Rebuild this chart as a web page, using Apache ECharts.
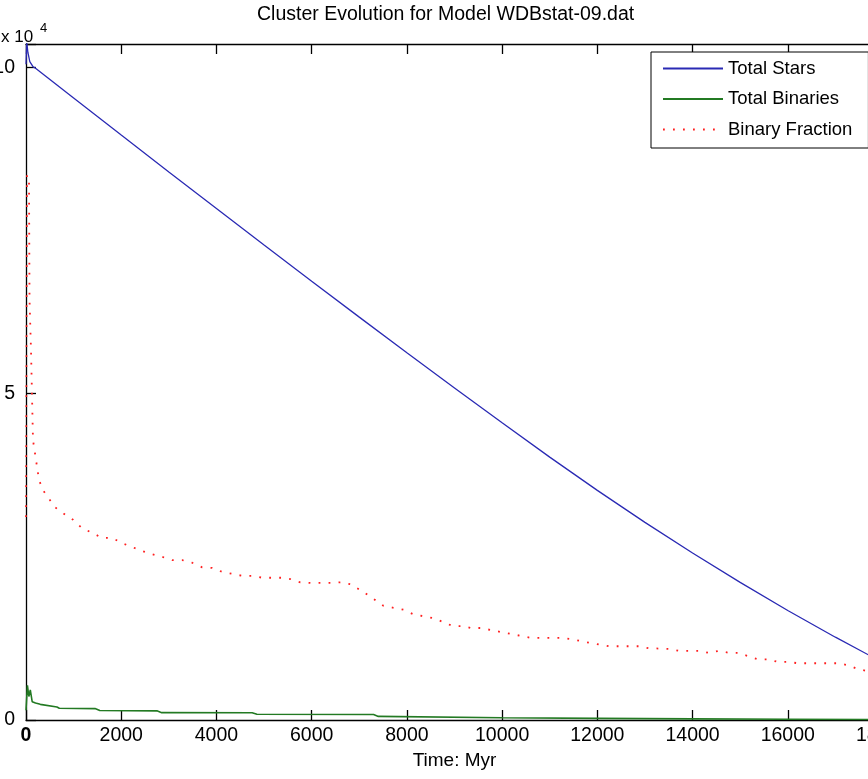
<!DOCTYPE html>
<html>
<head>
<meta charset="utf-8">
<script src="https://cdn.jsdelivr.net/npm/echarts@6/dist/echarts.min.js"></script>
<style>
  html, body { margin: 0; padding: 0; background: #ffffff; }
  #chart { width: 868px; height: 779px; }
</style>
</head>
<body>
<div id="chart"></div>
<script>
// Time axis ticks (Myr)
const timeTicks = [0, 2000, 4000, 6000, 8000, 10000, 12000, 14000, 16000, 18000];

// Total number of stars
const starTime = [0, 15, 40, 80, 150, 200, 1000, 2000, 3000, 4000, 5000, 6000, 7000, 8000, 9000,
  10000, 11000, 12000, 13000, 14000, 15000, 16000, 17000, 18000];
const totalStars = [100500, 103900, 102300, 100900, 100100, 99900, 95340, 89640, 83990, 78390, 72790, 67240, 61740, 56290, 50890,
  45540, 40290, 35190, 30290, 25590, 21090, 16790, 12690, 8790];

// Total number of binaries
const binaryTime = [0, 30, 60, 90, 130, 200, 300, 650, 700, 1450, 1550, 2750, 2850, 4750, 4850,
  7300, 7400, 10000, 12000, 14000, 16000, 18000];
const totalBinaries = [1500, 5300, 3600, 4600, 2800, 2600, 2400, 2000, 1800, 1750, 1450, 1400, 1130, 1100, 870,
  850, 550, 350, 250, 180, 120, 80];

// Binary fraction, scaled onto the star-count axis
const fractionTime = [0, 20, 63, 74, 105, 147, 273, 358, 610, 778, 988, 1178, 1388, 1598, 1809,
  2019, 2229, 2440, 2650, 2860, 3070, 3281, 3491, 3701, 3912, 4122, 4332, 4543, 4753, 4963,
  5174, 5384, 5552, 5762, 5973, 6183, 6393, 6604, 6814, 7024, 7234, 7508, 7718, 7929, 8139,
  8349, 8559, 8770, 8959, 9169, 9338, 9548, 9758, 9968, 10179, 10389, 10599, 11230, 11441, 11861,
  12240, 12870, 13081, 13502, 13712, 14132, 14343, 14553, 14763, 14953, 15163, 15373, 15584, 15794, 16004,
  16215, 17056, 17266, 17476, 18000];
const binaryFraction = [31100, 83500, 82800, 64400, 56700, 42900, 36800, 35200, 32600, 31700, 30700, 29400, 28700, 27900, 27900,
  27100, 26500, 25900, 25400, 25000, 24500, 24500, 24100, 23400, 23300, 22700, 22400, 22100, 22100, 21800,
  21800, 21800, 21600, 21100, 21000, 21000, 21000, 21100, 20800, 19900, 18900, 17500, 17200, 16900, 16200,
  15900, 15600, 15000, 14400, 14400, 14100, 14100, 13800, 13500, 13200, 12900, 12600, 12600, 12400, 11800,
  11300, 11300, 11000, 10900, 10600, 10600, 10300, 10600, 10300, 10300, 9800, 9300, 9300, 8900, 8900,
  8700, 8700, 8400, 7800, 7000];

const seriesNames = ['Total Stars', 'Total Binaries', 'Binary Fraction'];
const titleText = 'Cluster Evolution for Model WDBstat-09.dat';
const xName = 'Time: Myr';

const zip = (xs, ys) => xs.map((x, i) => [x, ys[i]]);
const FONT = '"Liberation Sans", Arial, sans-serif';

const chart = echarts.init(document.getElementById('chart'), null, { renderer: 'canvas' });

chart.setOption({
  animation: false,
  backgroundColor: '#ffffff',
  title: {
    text: titleText,
    left: 252,
    top: 0,
    textStyle: { fontFamily: FONT, fontSize: 19.5, fontWeight: 'normal', color: '#000' }
  },
  legend: {
    orient: 'vertical',
    left: 651,
    top: 52,
    padding: [7, 16, 9, 11],
    itemGap: 11.5,
    itemWidth: 60,
    itemHeight: 18,
    backgroundColor: '#ffffff',
    borderColor: '#000000',
    borderWidth: 1,
    borderRadius: 0,
    data: seriesNames,
    itemStyle: { opacity: 0 },
    textStyle: { fontFamily: FONT, fontSize: 18.5, color: '#000', lineHeight: 18 }
  },
  graphic: [
    // axis exponent label above the top-left corner
    { type: 'text', left: 1, top: 29, style: { text: 'x 10', fontFamily: FONT, fontSize: 17, fill: '#000' } },
    { type: 'text', left: 40, top: 22, style: { text: '4', fontFamily: FONT, fontSize: 13, fill: '#000' } }
  ],
  grid: { left: 26, top: 44, width: 857, height: 676, containLabel: false, outerBoundsMode: 'none' },
  xAxis: [
    {
      type: 'value',
      min: timeTicks[0],
      max: timeTicks[timeTicks.length - 1],
      interval: timeTicks[1] - timeTicks[0],
      name: xName,
      nameLocation: 'middle',
      nameGap: 19,
      nameTextStyle: { fontFamily: FONT, fontSize: 19, color: '#000' },
      axisLine: { show: true, onZero: false, lineStyle: { color: '#000', width: 1.3 } },
      axisTick: { show: true, inside: true, length: 10, lineStyle: { color: '#000', width: 1.3 } },
      axisLabel: {
        fontFamily: FONT, fontSize: 19.5, color: '#000', margin: 6,
        showMaxLabel: true, showMinLabel: true, hideOverlap: false,
        formatter: v => (v === 0 ? '{b|0}' : String(v)),
        rich: { b: { fontFamily: FONT, fontSize: 19.5, fontWeight: 'bold', color: '#000' } }
      },
      splitLine: { show: false }
    },
    {
      type: 'value',
      position: 'top',
      min: timeTicks[0],
      max: timeTicks[timeTicks.length - 1],
      interval: timeTicks[1] - timeTicks[0],
      axisLine: { show: true, onZero: false, lineStyle: { color: '#000', width: 1.3 } },
      axisTick: { show: true, inside: true, length: 10, lineStyle: { color: '#000', width: 1.3 } },
      axisLabel: { show: false },
      splitLine: { show: false }
    }
  ],
  yAxis: {
    type: 'value',
    min: 0,
    max: 103600,
    interval: 50000,
    axisLine: { show: true, onZero: false, lineStyle: { color: '#000', width: 1.3 } },
    axisTick: { show: true, inside: true, length: 10, lineStyle: { color: '#000', width: 1.3 } },
    axisLabel: {
      fontFamily: FONT, fontSize: 19.5, color: '#000', margin: 11,
      formatter: v => (v % 50000 === 0 ? String(v / 10000) : '')
    },
    splitLine: { show: false }
  },
  series: [
    {
      name: seriesNames[0],
      type: 'line',
      symbol: 'none',
      data: zip(starTime, totalStars),
      lineStyle: { color: '#2a2ab4', width: 1.3 },
      itemStyle: { color: '#2a2ab4' },
      z: 3
    },
    {
      name: seriesNames[1],
      type: 'line',
      symbol: 'none',
      data: zip(binaryTime, totalBinaries),
      lineStyle: { color: '#237a23', width: 1.6 },
      itemStyle: { color: '#237a23' },
      z: 3
    },
    {
      name: seriesNames[2],
      type: 'line',
      symbol: 'none',
      data: zip(fractionTime, binaryFraction),
      lineStyle: { color: '#ff2020', width: 1.8, type: [1.8, 8.2] },
      itemStyle: { color: '#ff2020' },
      z: 3
    }
  ]
});
</script>
</body>
</html>
